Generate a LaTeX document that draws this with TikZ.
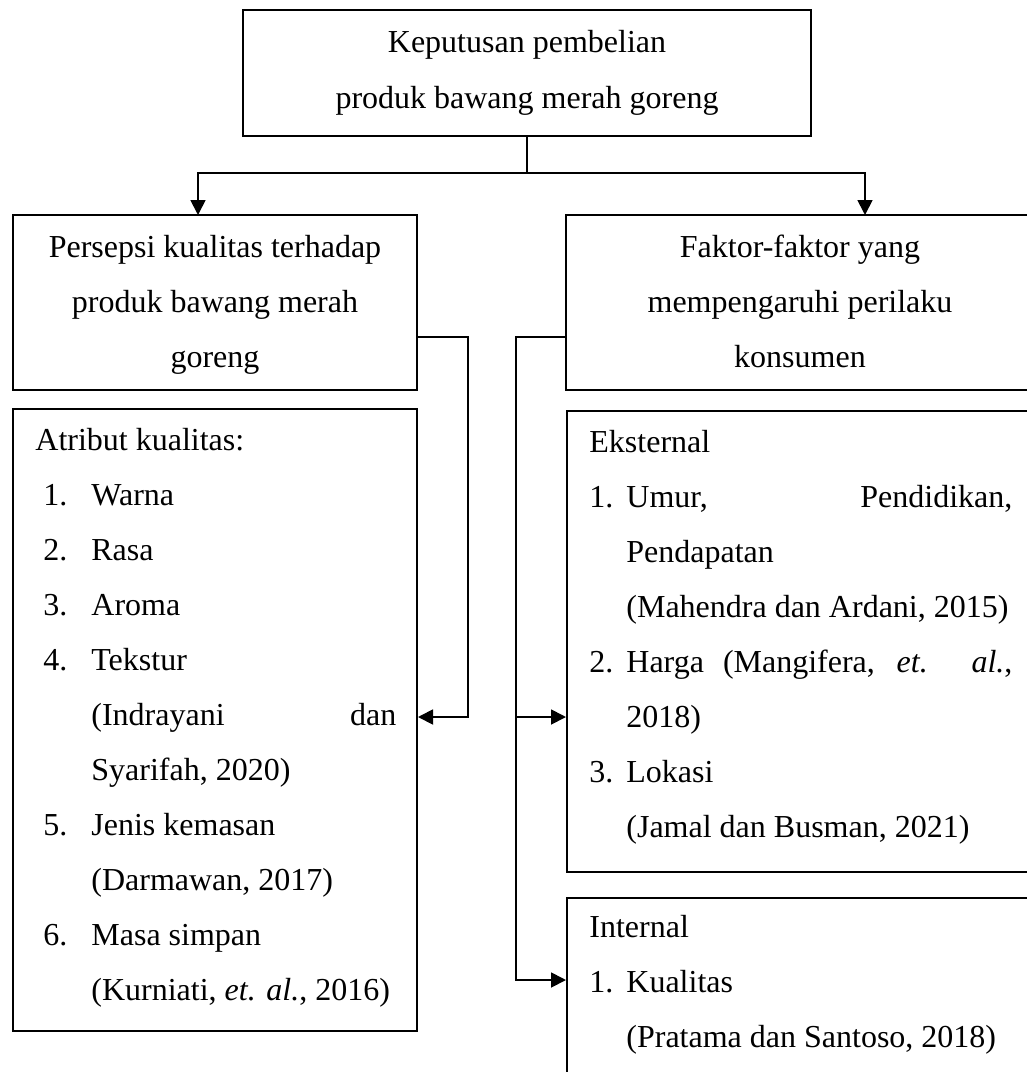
\documentclass[tikz,border=0pt]{standalone}
\usepackage{fontspec}
\setmainfont{Liberation Serif}
\usetikzlibrary{arrows.meta,fit}
\begin{document}
\begin{tikzpicture}[x=0.5pt,y=-0.5pt,
  box/.style={draw, line width=1pt, inner sep=0pt},
  txt/.style={inner sep=0pt, font=\fontsize{16pt}{19pt}\selectfont},
  conn/.style={line width=0.9pt},
  arr/.style={line width=0.9pt, -{Triangle[length=7.5pt,width=7.5pt]}}]
\useasboundingbox (0,0) rectangle (1027,1072);
\clip (0,0) rectangle (1027,1072);
\fill[white] (0,0) rectangle (1027,1072);

% boxes
\node[box, fit={(243,10) (811,136)}] (top) {};
\node[box, fit={(13,215) (417,390)}] (persepsi) {};
\node[box, fit={(566,215) (1035,390)}] (faktor) {};
\node[box, fit={(13,409) (417,1031)}] (atribut) {};
\node[box, fit={(567,411) (1035,872)}] (eksternal) {};
\node[box, fit={(567,898) (1035,1090)}] (internal) {};

% texts
\node[txt, anchor=base] (t1) at (527,52) {Keputusan pembelian};
\node[txt, anchor=base] (t2) at (527,108) {produk bawang merah goreng};

\node[txt, anchor=base] (p1) at (215,257) {Persepsi kualitas terhadap};
\node[txt, anchor=base] (p2) at (215,312) {produk bawang merah};
\node[txt, anchor=base] (p3) at (215,367) {goreng};

\node[txt, anchor=base] (f1) at (800,257) {Faktor-faktor yang};
\node[txt, anchor=base] (f2) at (800,312) {mempengaruhi perilaku};
\node[txt, anchor=base] (f3) at (800,367) {konsumen};

\node[txt, anchor=base west] (a0) at (35,450) {Atribut kualitas:};
\node[txt, anchor=base west] (an1) at (43,505) {1.};
\node[txt, anchor=base west] (a1) at (91,505) {Warna};
\node[txt, anchor=base west] (an2) at (43,560) {2.};
\node[txt, anchor=base west] (a2) at (91,560) {Rasa};
\node[txt, anchor=base west] (an3) at (43,615) {3.};
\node[txt, anchor=base west] (a3) at (91,615) {Aroma};
\node[txt, anchor=base west] (an4) at (43,670) {4.};
\node[txt, anchor=base west] (a4) at (91,670) {Tekstur};
\node[txt, anchor=base west] (a4b) at (91,725) {\makebox[152.5pt][s]{(Indrayani dan}};
\node[txt, anchor=base west] (a4c) at (91,780) {Syarifah, 2020)};
\node[txt, anchor=base west] (an5) at (43,835) {5.};
\node[txt, anchor=base west] (a5) at (91,835) {Jenis kemasan};
\node[txt, anchor=base west] (a5b) at (91,890) {(Darmawan, 2017)};
\node[txt, anchor=base west] (an6) at (43,945) {6.};
\node[txt, anchor=base west] (a6) at (91,945) {Masa simpan};
\node[txt, anchor=base west] (a6b) at (91,1000) {(Kurniati, \textit{et. al.}, 2016)};

\node[txt, anchor=base west] (e0) at (589,452) {Eksternal};
\node[txt, anchor=base west] (en1) at (589,507) {1.};
\node[txt, anchor=base west] (e1) at (626,507) {\makebox[193pt][s]{Umur, Pendidikan,}};
\node[txt, anchor=base west] (e1b) at (626,562) {Pendapatan};
\node[txt, anchor=base west] (e1c) at (626,617) {(Mahendra dan Ardani, 2015)};
\node[txt, anchor=base west] (en2) at (589,672) {2.};
\node[txt, anchor=base west] (e2) at (626,672) {\makebox[193pt][s]{Harga (Mangifera, \textit{et.} \textit{al.},}};
\node[txt, anchor=base west] (e2b) at (626,727) {2018)};
\node[txt, anchor=base west] (en3) at (589,782) {3.};
\node[txt, anchor=base west] (e3) at (626,782) {Lokasi};
\node[txt, anchor=base west] (e3b) at (626,837) {(Jamal dan Busman, 2021)};

\node[txt, anchor=base west] (i0) at (589,937) {Internal};
\node[txt, anchor=base west] (in1) at (589,992) {1.};
\node[txt, anchor=base west] (i1) at (626,992) {Kualitas};
\node[txt, anchor=base west] (i1b) at (626,1047) {(Pratama dan Santoso, 2018)};

% helper coordinates
\coordinate (lvl) at (0,173);
\coordinate (pTop) at (198,215);
\coordinate (fTop) at (865,215);
\coordinate (side) at (0,337);
\coordinate (jL) at (468,717);
\coordinate (jR) at (516,717);
\coordinate (kRow) at (0,980);

% connectors
\draw[arr] (top.south) |- (pTop |- lvl) -- (pTop);
\draw[arr] (top.south |- lvl) -| (fTop);
\draw[arr] (persepsi.east |- side) -| (jL) -- (atribut.east |- jL);
\draw[arr] (faktor.west |- side) -| (jR) -- (eksternal.west |- jR);
\draw[arr] (jR) |- (internal.west |- kRow);
\end{tikzpicture}
\end{document}
